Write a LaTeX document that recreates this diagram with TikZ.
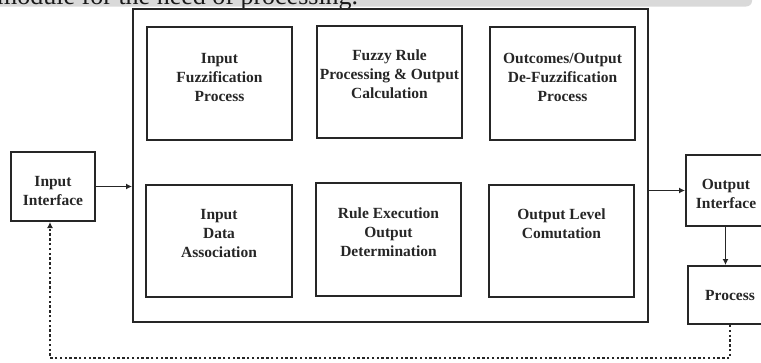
\documentclass[tikz,border=0pt]{standalone}
\usepackage{fontspec}
\setmainfont{Liberation Serif}
\usetikzlibrary{arrows.meta}
\tikzset{
  box/.style={draw=black!85, line width=2pt, rectangle, inner sep=0pt},
  lbl/.style={align=center, inner sep=0pt, font=\bfseries\fontsize{15.5}{19}\selectfont, text=black!85},
  arr/.style={line width=1.6pt, draw=black!85, -{Latex[length=6pt,width=6pt]}},
  dashline/.style={line width=2.4pt, draw=black!85, dash pattern=on 2.4pt off 2.4pt}
}
\begin{document}
\begin{tikzpicture}[x=1pt,y=-1pt]
\useasboundingbox (0,0) rectangle (761,362);
% top strip
\fill[black!15] (0,0) -- (752,0) -- (752,1) to[out=-90,in=0] (746,6.5) -- (0,6.5) -- cycle;
\node[anchor=base west, inner sep=0pt, font=\fontsize{26}{26}\selectfont, text=black!90] (strip) at (-3,4.5) {module for the need of processing.};
% outer box
\node[box, minimum width=515pt, minimum height=313pt] (big) at (390.5,165.5) {};
% inner boxes
\node[box, minimum width=145pt, minimum height=113pt] (b1) at (219.5,83.5) {};
\node[lbl] (t1) at (219.5,77) {Input\\Fuzzification\\Process};
\node[box, minimum width=145pt, minimum height=112pt] (b2) at (389.5,82) {};
\node[lbl] (t2) at (389.5,74) {Fuzzy Rule\\Processing \& Output\\Calculation};
\node[box, minimum width=145pt, minimum height=113pt] (b3) at (562.5,83.5) {};
\node[lbl] (t3) at (562.5,77) {Outcomes/Output\\De-Fuzzification\\Process};
\node[box, minimum width=146pt, minimum height=112pt] (b4) at (219,241) {};
\node[lbl] (t4) at (219,233) {Input\\Data\\Association};
\node[box, minimum width=145pt, minimum height=113pt] (b5) at (388.5,239.5) {};
\node[lbl] (t5) at (388.5,232) {Rule Execution\\Output\\Determination};
\node[box, minimum width=145pt, minimum height=112pt] (b6) at (561.5,241) {};
\node[lbl] (t6) at (561.5,223.5) {Output Level\\Comutation};
% side boxes
\node[box, minimum width=84pt, minimum height=69pt] (inp) at (53,186.5) {};
\node[lbl] (tin) at (53,191) {Input\\Interface};
\node[box, minimum width=79pt, minimum height=71pt] (out) at (725.5,190.5) {};
\node[lbl] (tout) at (726,194) {Output\\Interface};
\node[box, minimum width=77pt, minimum height=58pt] (proc) at (726.5,295) {};
\node[lbl] (tproc) at (730,295) {Process};
% connectors
\draw[arr] (inp.east) -- (inp.east -| big.west);
\draw[arr] (out.west -| big.east) -- (out.west);
\draw[arr] (out.south) -- (out.south |- proc.north);
\coordinate (c1) at (730,358);
\coordinate (c2) at (50,358);
\draw[dashline, arr] (proc.south -| c1) -- (c1) -- (c2) -- (c2 |- inp.south);
\end{tikzpicture}
\end{document}
